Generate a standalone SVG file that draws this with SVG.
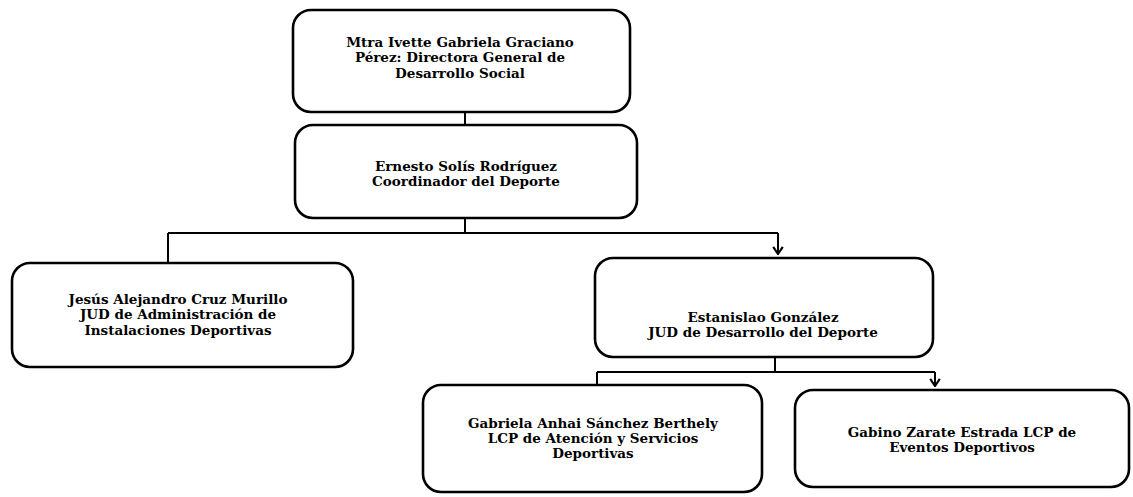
<svg xmlns="http://www.w3.org/2000/svg" width="1133" height="497" viewBox="0 0 1133 497">
<style>
.box{fill:#fff;stroke:#000;stroke-width:2.6}
.lbl{font-family:"DejaVu Serif","Liberation Serif",serif;font-weight:bold;font-size:13.5px;fill:#000;text-anchor:middle}
.con{fill:none;stroke:#000;stroke-width:2}
</style>
<defs>
<marker id="arr" viewBox="0 0 10 10" refX="9" refY="5" markerWidth="12" markerHeight="12" orient="auto" markerUnits="userSpaceOnUse">
<path d="M3,1 L9,5 L3,9" fill="none" stroke="#000" stroke-width="1.8"/>
</marker>
</defs>
<rect width="1133" height="497" fill="#fff"/>
<g id="n1">
<rect class="box" x="293" y="10" width="337" height="102" rx="18"/>
<text class="lbl" x="460" y="47">Mtra Ivette Gabriela Graciano</text>
<text class="lbl" x="460" y="62">Pérez: Directora General de</text>
<text class="lbl" x="460" y="78">Desarrollo Social</text>
</g>
<g id="n2">
<rect class="box" x="295" y="125" width="342" height="93" rx="18"/>
<text class="lbl" x="466" y="171">Ernesto Solís Rodríguez</text>
<text class="lbl" x="466" y="186">Coordinador del Deporte</text>
</g>
<g id="n3">
<rect class="box" x="12" y="263" width="341" height="104" rx="18"/>
<text class="lbl" x="178" y="304">Jesús Alejandro Cruz Murillo</text>
<text class="lbl" x="178" y="319">JUD de Administración de</text>
<text class="lbl" x="178" y="335">Instalaciones Deportivas</text>
</g>
<g id="n4">
<rect class="box" x="595" y="258" width="338" height="99" rx="18"/>
<text class="lbl" x="763" y="322">Estanislao González</text>
<text class="lbl" x="763" y="337">JUD de Desarrollo del Deporte</text>
</g>
<g id="n5">
<rect class="box" x="423" y="385" width="339" height="107" rx="18"/>
<text class="lbl" x="593" y="428">Gabriela Anhai Sánchez Berthely</text>
<text class="lbl" x="593" y="443">LCP de Atención y Servicios</text>
<text class="lbl" x="593" y="458">Deportivas</text>
</g>
<g id="n6">
<rect class="box" x="795" y="390" width="334" height="97" rx="18"/>
<text class="lbl" x="962" y="437">Gabino Zarate Estrada LCP de</text>
<text class="lbl" x="962" y="452">Eventos Deportivos</text>
</g>
<g id="connectors">
<path class="con" d="M465,112 V125"/>
<path class="con" d="M465,218 V233 M168,233 H778"/>
<path class="con" d="M168,233 V262"/>
<path class="con" d="M778,233 V254" marker-end="url(#arr)"/>
<path class="con" d="M775,357 V372 M597,372 H935"/>
<path class="con" d="M597,372 V384"/>
<path class="con" d="M935,372 V386" marker-end="url(#arr)"/>
</g>
</svg>
